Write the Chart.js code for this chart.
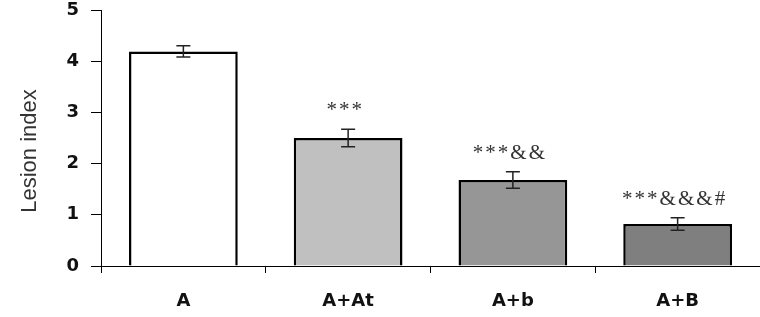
<!DOCTYPE html>
<html>
<head>
<meta charset="utf-8">
<script src="https://cdn.jsdelivr.net/npm/chart.js@4"></script>
<style>
  html, body { margin: 0; padding: 0; background: #fff; }
  #wrap { width: 760px; height: 317px; }
</style>
</head>
<body>
<div id="wrap"><canvas id="grafico"></canvas></div>
<script>
// dados
var grupos = ['A', 'A+At', 'A+b', 'A+B'];
var valores = [4.19, 2.50, 1.68, 0.82];
var erros = [0.11, 0.17, 0.16, 0.12];
var anotacoes = ['', '***', '***&&', '***&&&#'];
var cores = ['#ffffff', '#c0c0c0', '#969696', '#7f7f7f'];
var ticksY = [0, 1, 2, 3, 4, 5];
var tituloY = 'Lesion index';

// barras de erro, asteriscos e título do eixo Y
var pluginErros = {
    id: 'erros',
    afterDatasetsDraw: function(chart) {
        var ctx = chart.ctx;
        var x = chart.scales.x, y = chart.scales.y;
        ctx.save();
        ctx.strokeStyle = '#222';
        ctx.lineWidth = 1.5;
        for (var i = 0; i < valores.length; i++) {
            var cx = x.getPixelForValue(i);
            var yTop = y.getPixelForValue(valores[i] + erros[i]);
            var yBot = y.getPixelForValue(valores[i] - erros[i]);
            ctx.beginPath();
            ctx.moveTo(cx, yTop); ctx.lineTo(cx, yBot);
            ctx.moveTo(cx - 7, yTop); ctx.lineTo(cx + 7, yTop);
            ctx.moveTo(cx - 7, yBot); ctx.lineTo(cx + 7, yBot);
            ctx.stroke();
            if (anotacoes[i]) {
                ctx.fillStyle = '#333';
                ctx.font = '21px "Liberation Serif"';
                ctx.letterSpacing = '2px';
                ctx.textAlign = 'center';
                ctx.textBaseline = 'alphabetic';
                ctx.fillText(anotacoes[i], cx - 3, yTop - 13);
            }
        }
        ctx.restore();

        // título do eixo Y
        ctx.save();
        ctx.translate(36, (chart.chartArea.top + chart.chartArea.bottom) / 2 + 13);
        ctx.rotate(-Math.PI / 2);
        ctx.fillStyle = '#333';
        ctx.font = '22px "Liberation Sans"';
        ctx.textAlign = 'center';
        ctx.textBaseline = 'alphabetic';
        ctx.fillText(tituloY, 0, 0);
        ctx.restore();
    }
};

var ctx1 = document.getElementById('grafico').getContext('2d');
var grafico = new Chart(ctx1, {
    type: 'bar',
    data: {
        labels: grupos,
        datasets: [{
            data: valores,
            backgroundColor: cores,
            borderColor: '#000',
            borderWidth: 2.5,
            borderSkipped: 'bottom',
            categoryPercentage: 1,
            barPercentage: 0.66
        }]
    },
    options: {
        responsive: true,
        maintainAspectRatio: false,
        animation: false,
        layout: { padding: 0 },
        plugins: {
            legend: { display: false },
            tooltip: { enabled: false }
        },
        scales: {
            x: {
                offset: true,
                border: { color: '#000', width: 1 },
                grid: { drawOnChartArea: false, offset: true, tickLength: 7, color: '#000' },
                ticks: {
                    color: '#111',
                    padding: 18,
                    font: { family: 'DejaVu Sans', weight: 'bold', size: 18 }
                },
                afterFit: function(s) { s.height = 51; }
            },
            y: {
                min: 0,
                max: 5,
                afterBuildTicks: function(s) { s.ticks = ticksY.map(function(v) { return { value: v }; }); },
                border: { color: '#000', width: 1 },
                grid: { drawOnChartArea: false, tickLength: 10, color: '#000' },
                ticks: {
                    color: '#111',
                    padding: 12,
                    font: { family: 'DejaVu Sans', weight: 'bold', size: 18 }
                },
                afterFit: function(s) { s.width = 101; s.paddingTop = 10; }
            }
        }
    },
    plugins: [pluginErros]
});
</script>
</body>
</html>
